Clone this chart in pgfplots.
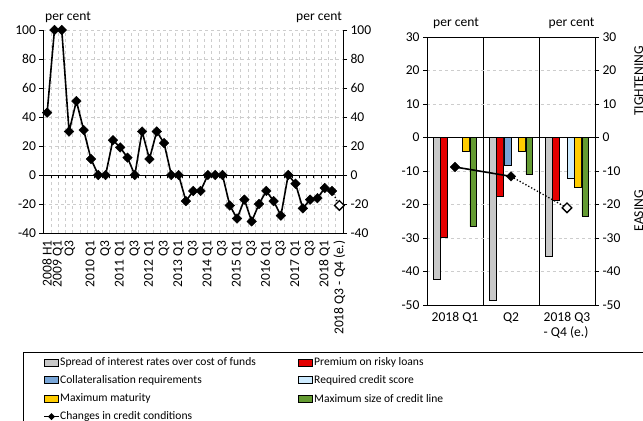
\documentclass[border=0pt]{standalone}
\usepackage{pgfplots}
\pgfplotsset{compat=1.18}
\usepackage{fontspec}
\setmainfont{Carlito}
\definecolor{cgray}{RGB}{200,200,200}
\definecolor{cred}{RGB}{228,0,0}
\definecolor{cblue}{RGB}{120,165,215}
\definecolor{clblue}{RGB}{205,235,255}
\definecolor{cyellow}{RGB}{255,204,0}
\definecolor{cgreen}{RGB}{100,155,50}
\definecolor{gridc}{RGB}{205,205,205}
\newcommand{\fs}{\fontsize{13.6}{15}\selectfont}
\newcommand{\lfs}{\fontsize{11.6}{13}\selectfont}
\pgfplotsset{base/.style={scale only axis,
  /pgf/number format/assume math mode=true,
  tick label style={font=\fs},
  tick style={black, line width=0.6bp},
  tick align=outside, major tick length=4bp,
  axis line style={black, line width=0.8bp}}}

\pgfplotstableread{
x y
0 43
1 100
2 100
3 30
4 51
5 31
6 11
7 0
8 0
9 24
10 19
11 12
12 0
13 30
14 11
15 30
16 22
17 0
18 0
19 -18
20 -11
21 -11
22 0
23 0
24 0
25 -21
26 -30
27 -17
28 -32
29 -20
30 -11
31 -18
32 -28
33 0
34 -6
35 -23
36 -17
37 -16
38 -9
39 -11
}\credit

\newcommand{\legbox}[4]{%
  \draw[fill=#3, draw=black, line width=0.5bp] (#1bp,#2bp-3.5bp) rectangle ++(14bp,7bp);
  \node[anchor=west, inner sep=0pt, font=\lfs] at (#1bp+16bp,#2bp) {#4};}

\begin{document}
\begin{tikzpicture}
\useasboundingbox (0,0) rectangle (643bp,-421bp);

% ---------- left chart ----------
\begin{axis}[base, at={(43.5bp,-233bp)}, anchor=south west,
  width=299.5bp, height=203bp,
  xmin=-0.5, xmax=40.5, ymin=-40, ymax=100, ytick={-40,-20,...,100},
  axis x line*=bottom, axis y line*=left,
  xtick={0,1.5,3.1,6,8,10,12,14,16,18,20,22,24,26,28,30,32,34,36,38,40},
  xticklabels={2008 H1,2009 Q1,Q3,2010 Q1,Q3,2011 Q1,Q3,2012 Q1,Q3,2013 Q1,Q3,2014 Q1,Q3,2015 Q1,Q3,2016 Q1,Q3,2017 Q1,Q3,2018 Q1,2018 Q3 - Q4 (e.)},
  x tick label style={rotate=90, anchor=east, font=\fs},
  x tick style={draw=none},
  minor xtick={-0.5,0.5,...,40.5}, minor tick length=0pt,
  xminorgrids, minor x grid style={dashed, gridc, line width=0.5bp},
  ymajorgrids, major y grid style={dashed, gridc, line width=0.5bp},
  clip=false]
\draw[black, line width=0.8bp] (axis cs:-0.5,0) -- (axis cs:40.5,0);
\pgfplotsinvokeforeach{-0.5,0.5,...,40.5}{\draw[black, line width=0.6bp] (axis cs:#1,0) -- ++(0pt,-3bp);}
\addplot[black, line width=1.6bp, mark=square*, mark size=3.4bp,
  mark options={rotate=45, fill=black, solid, line width=0.4bp}] table[x=x,y=y] {\credit};
\addplot[black, dotted, line width=1.3bp] coordinates {(39,-11) (40,-21)};
\addplot[only marks, mark=square*, mark size=3.4bp,
  mark options={rotate=45, fill=white, draw=black, line width=1.3bp}] coordinates {(40,-21)};
\end{axis}
\begin{axis}[base, at={(43.5bp,-233bp)}, anchor=south west,
  width=299.5bp, height=203bp,
  xmin=-0.5, xmax=40.5, ymin=-40, ymax=100, ytick={-40,-20,...,100},
  hide x axis, axis y line*=right]
\end{axis}

% ---------- right chart ----------
\begin{axis}[base, at={(427bp,-305bp)}, anchor=south west,
  width=168bp, height=268bp,
  xmin=-0.5, xmax=2.5, ymin=-50, ymax=30, ytick={-50,-40,...,30},
  ytick pos=left,
  xtick={0,1,2}, xticklabels={2018 Q1,Q2,{2018 Q3\\- Q4 (e.)}},
  x tick label style={align=left, anchor=north, font=\fs},
  x tick style={draw=none},
  minor xtick={0.5,1.5}, minor tick length=0pt,
  xminorgrids, minor x grid style={black, line width=0.6bp},
  ymajorgrids, major y grid style={dashed, gridc, line width=0.5bp},
  clip=false]
\addplot[ybar, bar width=6.8bp, bar shift=-18.25bp, fill=cgray, draw=black, line width=0.5bp] coordinates {(0,-42.2) (1,-48.7) (2,-35.3)};
\addplot[ybar, bar width=6.8bp, bar shift=-10.95bp, fill=cred, draw=black, line width=0.5bp] coordinates {(0,-29.8) (1,-17.5) (2,-18.7)};
\addplot[ybar, bar width=6.8bp, bar shift=-3.65bp, fill=cblue, draw=black, line width=0.5bp] coordinates {(0,0) (1,-8.4) (2,0)};
\addplot[ybar, bar width=6.8bp, bar shift=3.65bp, fill=clblue, draw=black, line width=0.5bp] coordinates {(0,0) (1,0) (2,-12.3)};
\addplot[ybar, bar width=6.8bp, bar shift=10.95bp, fill=cyellow, draw=black, line width=0.5bp] coordinates {(0,-4) (1,-4) (2,-14.8)};
\addplot[ybar, bar width=6.8bp, bar shift=18.25bp, fill=cgreen, draw=black, line width=0.5bp] coordinates {(0,-26.6) (1,-11.1) (2,-23.4)};
\draw[black, line width=0.8bp] (axis cs:-0.5,0) -- (axis cs:2.5,0);
\addplot[sharp plot, black, line width=1.6bp, mark=square*, mark size=3.4bp,
  mark options={rotate=45, fill=black, solid, line width=0.4bp}] coordinates {(0,-8.8) (1,-11.6)};
\addplot[sharp plot, black, dotted, line width=1.3bp] coordinates {(1,-11.6) (2,-21)};
\addplot[only marks, mark=square*, mark size=3.4bp,
  mark options={rotate=45, fill=white, draw=black, line width=1.3bp}] coordinates {(2,-21)};
\end{axis}
\begin{axis}[base, at={(427bp,-305bp)}, anchor=south west,
  width=168bp, height=268bp,
  xmin=-0.5, xmax=2.5, ymin=-50, ymax=30, ytick={-50,-40,...,30},
  hide x axis, axis y line*=right]
\end{axis}

% ---------- annotations ----------
\node[font=\fs] at (68bp,-17bp) {per cent};
\node[font=\fs] at (319bp,-17bp) {per cent};
\node[font=\fs] at (456bp,-23bp) {per cent};
\node[font=\fs] at (571.5bp,-23bp) {per cent};
\node[font=\fs, rotate=90, anchor=north east, inner sep=0pt] at (634bp,-46bp) {TIGHTENING};
\node[font=\fs, rotate=90, anchor=north east, inner sep=0pt] at (634bp,-190bp) {EASING};

% ---------- legend ----------
\draw[black, line width=0.7bp] (23bp,-352.5bp) rectangle (700bp,-460bp);
\legbox{44}{-362.3}{cgray}{Spread of interest rates over cost of funds}
\legbox{298}{-362.3}{cred}{Premium on risky loans}
\legbox{44}{-380}{cblue}{Collateralisation requirements}
\legbox{298}{-380}{clblue}{Required credit score}
\legbox{44}{-398.8}{cyellow}{Maximum maturity}
\legbox{298}{-398.8}{cgreen}{Maximum size of credit line}
\draw[black, line width=1.2bp] (44bp,-416.7bp) -- (59bp,-416.7bp);
\fill[black] (51.5bp,-413.2bp) -- ++(3.5bp,-3.5bp) -- ++(-3.5bp,-3.5bp) -- ++(-3.5bp,3.5bp) -- cycle;
\node[anchor=west, inner sep=0pt, font=\lfs] at (60bp,-416.7bp) {Changes in credit conditions};
\end{tikzpicture}
\end{document}
